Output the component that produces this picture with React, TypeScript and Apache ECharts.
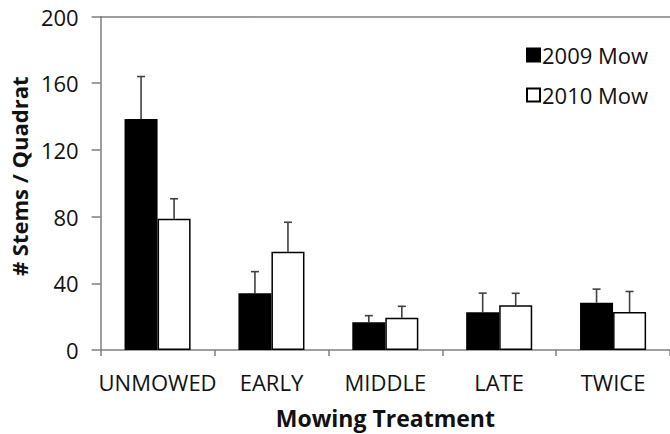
import React, { useEffect, useRef } from "react";
import * as echarts from "echarts";

const categories = ["UNMOWED", "EARLY", "MIDDLE", "LATE", "TWICE"];
const mow2009 = [138.6, 34.1, 16.6, 22.6, 28.4];
const mow2009Upper = [164, 47, 20.6, 34.1, 36.5];
const mow2010 = [78.7, 58.9, 19.4, 26.8, 22.8];
const mow2010Upper = [90.7, 76.6, 26.2, 34, 35.1];
const yTicks = { min: 0, max: 200, interval: 40 };

const FONT = "'Open Sans', 'Noto Sans', sans-serif";
const CAT_GAP = 0.42;

function errSeries(name: string, vals: number[], uppers: number[], side: number) {
  return {
    type: "custom",
    name: name + " err",
    z: 1,
    silent: true,
    data: vals.map((v, i) => [i, v, uppers[i]]),
    encode: { x: 0, y: [1, 2] },
    renderItem: (params: any, api: any) => {
      const i = api.value(0);
      const band = api.size([1, 0])[0];
      const barW = (band * (1 - CAT_GAP)) / 2;
      const base = api.coord([i, api.value(1)]);
      const top = api.coord([i, api.value(2)]);
      const x = base[0] + side * barW / 2;
      const cap = 4;
      const style = { stroke: "#404040", lineWidth: 1.6 };
      return {
        type: "group",
        children: [
          { type: "line", shape: { x1: x, y1: base[1], x2: x, y2: top[1] }, style },
          { type: "line", shape: { x1: x - cap, y1: top[1], x2: x + cap, y2: top[1] }, style },
        ],
      };
    },
  };
}

export default function App() {
  const ref = useRef<HTMLDivElement>(null);
  useEffect(() => {
    const chart = echarts.init(ref.current!, null, { renderer: "svg" });
    const axisLine = { show: true, lineStyle: { color: "#7f7f7f", width: 1.5 } };
    chart.setOption({
      animation: false,
      backgroundColor: "#ffffff",
      textStyle: { fontFamily: FONT },
      grid: { left: 100, right: -5, top: 16.5, bottom: 83.3, containLabel: false },
      legend: {
        orient: "vertical",
        left: 521,
        top: 37,
        itemWidth: 13,
        itemHeight: 13,
        itemGap: 14,
        icon: "rect",
        data: ["2009 Mow", "2010 Mow"],
        textStyle: { fontFamily: FONT, fontSize: 22, color: "#111", lineHeight: 26, padding: [0, 0, 0, -3] },
      },
      xAxis: [
        {
          type: "category",
          data: categories,
          axisLine,
          axisTick: { show: true, length: 6, lineStyle: { color: "#7f7f7f", width: 1.5 } },
          axisLabel: { fontFamily: FONT, fontSize: 22, color: "#111", margin: 21, interval: 0 },
          name: "Mowing Treatment",
          nameLocation: "middle",
          nameGap: 56,
          nameTextStyle: { fontFamily: FONT, fontSize: 23, fontWeight: "bold", color: "#111" },
        },
        {
          type: "category",
          data: categories,
          position: "top",
          axisLine,
          axisTick: { show: false },
          axisLabel: { show: false },
        },
      ],
      yAxis: {
        type: "value",
        min: yTicks.min,
        max: yTicks.max,
        interval: yTicks.interval,
        axisLine,
        axisTick: { show: true, length: 9, lineStyle: { color: "#7f7f7f", width: 1.5 } },
        splitLine: { show: false },
        axisLabel: { fontFamily: FONT, fontSize: 22, color: "#111", margin: 22 },
        name: "# Stems / Quadrat",
        nameLocation: "middle",
        nameGap: 66,
        nameTextStyle: { fontFamily: FONT, fontSize: 22, fontWeight: "bold", color: "#111", padding: [0, 0, 0, 14] },
      },
      series: [
        {
          type: "bar",
          name: "2009 Mow",
          data: mow2009,
          barGap: "0%",
          barCategoryGap: "42%",
          z: 2,
          itemStyle: { color: "#000000", borderColor: "#000000", borderWidth: 1.5 },
        },
        {
          type: "bar",
          name: "2010 Mow",
          data: mow2010,
          barGap: "0%",
          barCategoryGap: "42%",
          z: 2,
          itemStyle: { color: "#ffffff", borderColor: "#000000", borderWidth: 1.5 },
        },
        errSeries("2009 Mow", mow2009, mow2009Upper, -1),
        errSeries("2010 Mow", mow2010, mow2010Upper, 1),
      ],
    });
    return () => chart.dispose();
  }, []);
  return (
    <div style={{ position: "fixed", left: 0, top: 0, width: 670, height: 434, overflow: "hidden", background: "#fff" }}>
      <div ref={ref} style={{ width: 670, height: 434 }} />
    </div>
  );
}
